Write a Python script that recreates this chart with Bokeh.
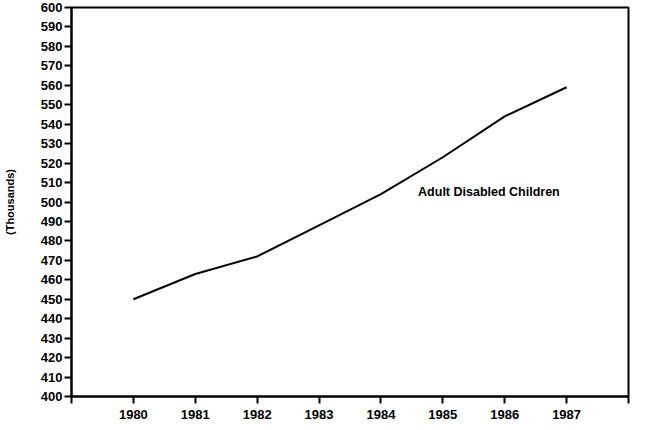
from bokeh.plotting import figure
from bokeh.embed import file_html
from bokeh.resources import INLINE
from bokeh.models import FixedTicker, Range1d, Label

years = [1980, 1981, 1982, 1983, 1984, 1985, 1986, 1987]
values = [450, 463, 472, 488, 504, 523, 544, 559]
x_ticks = list(range(1979, 1989))
y_ticks = list(range(400, 601, 10))
series_label = "Adult Disabled Children"
y_title = "(Thousands)"

p = figure(width=638, height=421, output_backend="svg", toolbar_location=None,
           x_range=Range1d(1979, 1988), y_range=Range1d(400, 600),
           min_border_left=66, min_border_right=10, min_border_top=7, min_border_bottom=25)

p.line(years, values, line_color="black", line_width=2)

p.xgrid.visible = False
p.ygrid.visible = False
p.outline_line_color = "black"
p.outline_line_width = 2
p.outline_line_alpha = 1

font = "Liberation Sans"
p.xaxis.ticker = FixedTicker(ticks=x_ticks)
p.xaxis.major_label_overrides = {1979: "", 1988: ""}
p.yaxis.ticker = FixedTicker(ticks=y_ticks)
for ax in (p.xaxis, p.yaxis):
    ax.axis_line_color = "black"
    ax.axis_line_width = 2
    ax.major_tick_line_color = "black"
    ax.major_tick_line_width = 2
    ax.major_tick_in = 0
    ax.major_tick_out = 7
    ax.minor_tick_line_color = None
    ax.major_label_text_font = font
    ax.major_label_text_font_style = "bold"
    ax.major_label_text_font_size = "13px"
    ax.major_label_text_color = "black"
p.xaxis.major_label_standoff = 6
p.yaxis.major_label_standoff = 2

p.yaxis.axis_label = y_title
p.yaxis.axis_label_text_font = font
p.yaxis.axis_label_text_font_style = "bold"
p.yaxis.axis_label_text_font_size = "11px"
p.yaxis.axis_label_text_color = "black"
p.yaxis.axis_label_standoff = 22

p.add_layout(Label(x=1984.6, y=505, text=series_label, text_font=font,
                   text_font_style="bold", text_font_size="12.5px",
                   text_color="black", text_baseline="middle"))

open("out.html", "w").write(file_html(p, INLINE))
